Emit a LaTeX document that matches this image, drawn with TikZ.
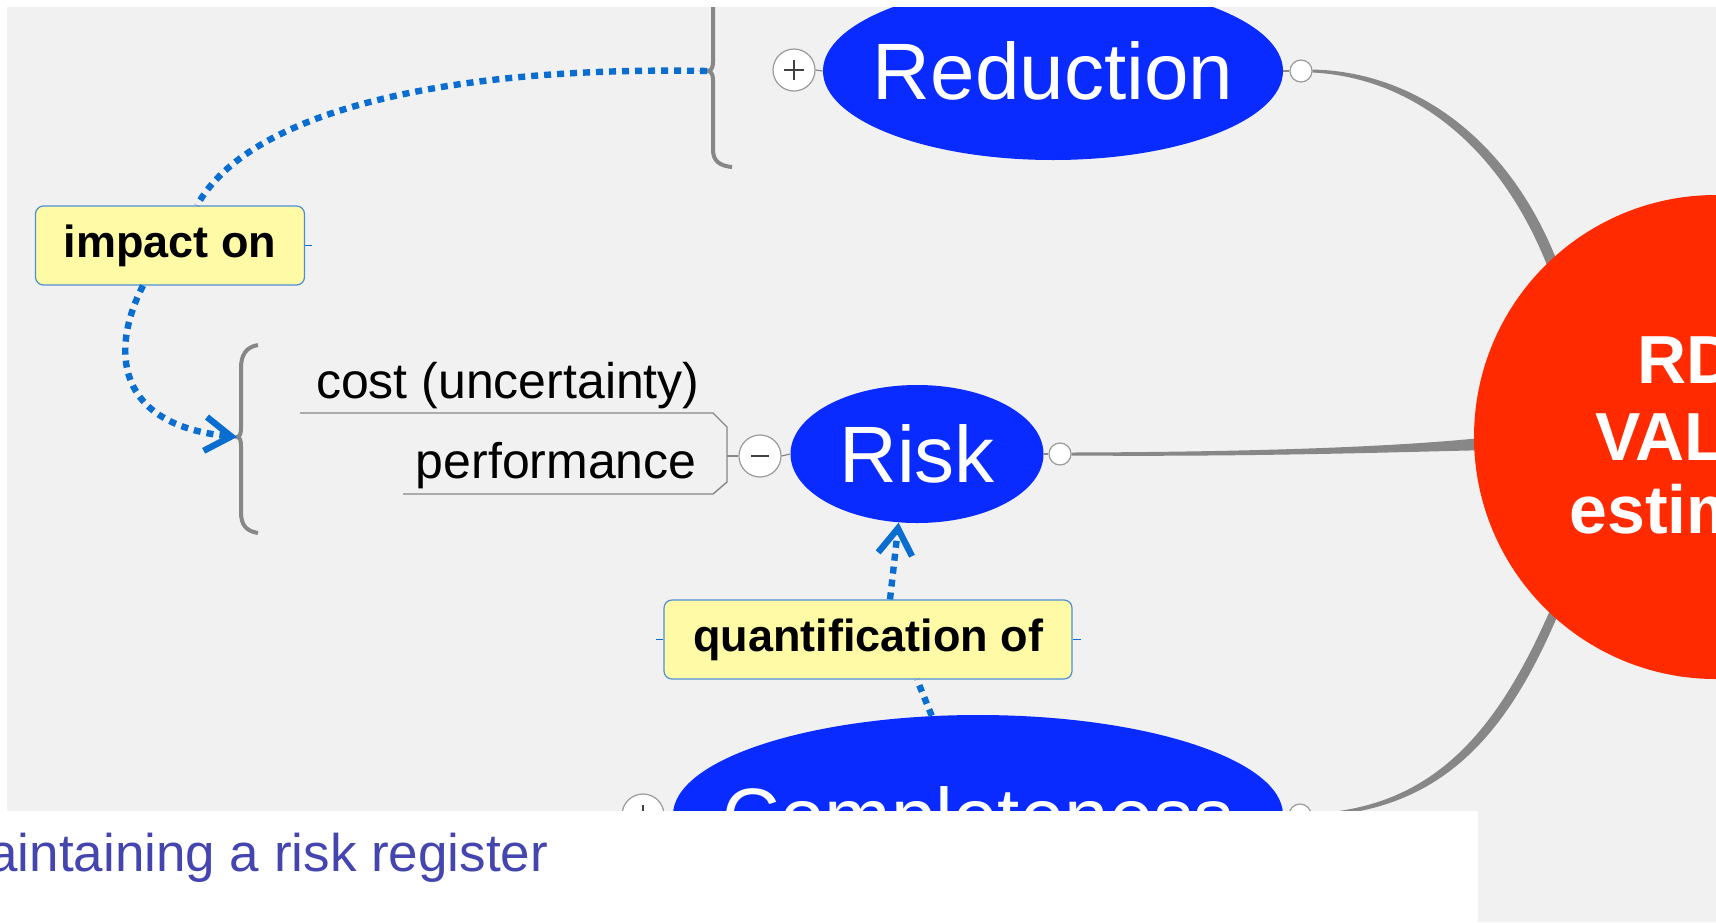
\documentclass[tikz,border=0pt]{standalone}
\usepackage{fontspec}
\setmainfont{Liberation Sans}
\usetikzlibrary{shapes.geometric,arrows.meta,calc}

\definecolor{canvas}{HTML}{F1F1F1}
\definecolor{topicblue}{HTML}{0A2BFF}
\definecolor{corered}{HTML}{FF2A00}
\definecolor{relblue}{HTML}{0A6ED1}
\definecolor{noteyellow}{HTML}{FFFAA5}
\definecolor{noteedge}{HTML}{4D8FD6}
\definecolor{branchgray}{HTML}{878787}
\definecolor{knobgray}{HTML}{9A9A9A}
\definecolor{signgray}{HTML}{404040}
\definecolor{captionblue}{HTML}{4545B0}

\begin{document}
\begin{tikzpicture}[x=0.5pt,y=-0.5pt,
  topic/.style={ellipse, fill=topicblue, inner sep=0pt},
  topiclabel/.style={text=white, inner sep=0pt, text depth=0pt,
    font=\fontsize{40}{40}\selectfont},
  core/.style={circle, fill=corered, inner sep=0pt},
  coretext/.style={anchor=base west, inner sep=0pt, text=white,
    font=\bfseries\fontsize{34}{34}\selectfont},
  toggle/.style={circle, fill=white, draw=knobgray, line width=0.6pt, minimum size=21pt, inner sep=0pt},
  knob/.style={circle, fill=white, draw=knobgray, line width=0.6pt, minimum size=11pt, inner sep=0pt},
  signline/.style={draw=signgray, line width=1pt},
  joinline/.style={draw=branchgray, line width=0.6pt},
  bracket/.style={draw=branchgray, line width=2pt},
  branchline/.style={draw=branchgray, line width=0.7pt},
  relation/.style={draw=relblue, line width=3.2pt, dash pattern=on 3.5pt off 3pt},
  relarrow/.style={-{Straight Barb[length=13pt, width=17pt]}},
  note/.style={rectangle, rounded corners=4pt, fill=noteyellow, draw=noteedge, line width=0.6pt,
    inner sep=0pt, font=\bfseries\fontsize{22.5}{22.5}\selectfont},
  notetick/.style={draw=relblue, line width=0.8pt},
  leaf/.style={anchor=base east, inner sep=0pt, font=\fontsize{25}{25}\selectfont}
]
\useasboundingbox (0,0) rectangle (1716,922);
\clip (0,0) rectangle (1716,922);
\fill[white] (0,0) rectangle (1716,922);
\fill[canvas] (7,7) rectangle (1716,922);

% ---------- topic ellipses ----------
\node[topic, minimum width=230pt, minimum height=89pt,
  label={[topiclabel]center:Reduction}] (reduction) at (1053,71) {};
\node[topic, minimum width=126.5pt, minimum height=69pt,
  label={[topiclabel]center:Risk}] (risk) at (917,454) {};
\node[topic, minimum width=305pt, minimum height=100pt,
  label={[topiclabel]center:Completeness}] (complete) at (978,815) {};

% ---------- expand / collapse toggles and knobs ----------
\node[toggle] (redplus) at (794,70) {};
\node[toggle] (riskminus) at (760,456) {};
\node[toggle] (compplus) at (643,815) {};
\node[knob] (redknob) at (1301,71) {};
\node[knob] (riskknob) at (1060,454) {};
\node[knob] (compknob) at (1300,815) {};

\draw[joinline] (redplus.east) -- (reduction.west);
\draw[joinline] (riskminus.east) -- (risk.west);
\draw[joinline] (compplus.east) -- (complete.west);
\draw[joinline] (reduction.east) -- (redknob.west);
\draw[joinline] (risk.east) -- (riskknob.west);
\draw[joinline] (complete.east) -- (compknob.west);

\draw[signline] ($(redplus)+(-10,0)$) -- ($(redplus)+(10,0)$)
                ($(redplus)+(0,-10)$) -- ($(redplus)+(0,10)$);
\draw[signline] ($(riskminus)+(-9,0)$) -- ($(riskminus)+(9,0)$);
\draw[signline] ($(compplus)+(-10,0)$) -- ($(compplus)+(10,0)$)
                ($(compplus)+(0,-10)$) -- ($(compplus)+(0,10)$);

% ---------- tapered branches to the central topic ----------
\coordinate (redend) at (1555,271);
\coordinate (riskend) at (1490,443.5);
\coordinate (compend) at (1558,603);
\fill[branchgray] ($(redknob.east)+(0,-1.5)$) .. controls (1422,72) and (1515,147) .. ($(redend)+(5,-2)$)
  -- ($(redend)+(-5,2)$) .. controls (1505,153) and (1418,78) .. ($(redknob.east)+(0,1.5)$) -- cycle;
\fill[branchgray] ($(riskknob.east)+(0,-1.5)$) .. controls (1250,452) and (1400,447) .. ($(riskend)+(0,-6.5)$)
  -- ($(riskend)+(0,6.5)$) .. controls (1400,452) and (1250,457) .. ($(riskknob.east)+(0,1.5)$) -- cycle;
\fill[branchgray] ($(compknob.east)+(0,-1.5)$) .. controls (1436,808) and (1500,728) .. ($(compend)+(-4,-2)$)
  -- ($(compend)+(4,2)$) .. controls (1510,732) and (1444,812) .. ($(compknob.east)+(0,1.5)$) -- cycle;

% ---------- central topic ----------
\node[core, minimum size=242pt] (centre) at (1716,437) {};
\node[coretext] (rdline) at (1637,383) {RD};
\node[coretext] (valline) at (1595,460) {VAL};
\node[coretext] (estline) at (1569,533) {estim};

% ---------- child branches of Risk ----------
\draw[branchline] (300,413) -- (713,413) -- (727,427) -- (727,482) -- (713,494) -- (403,494);
\draw[branchline] (727,456) -- (riskminus.west);
\node[leaf] (cost) at (700,398) {cost (uncertainty)};
\node[leaf] (perf) at (697,478) {performance};

% ---------- boundary brackets ----------
\draw[bracket] (713,-5) -- (713,62) .. controls (713,68) and (711,71) .. (707,71)
  .. controls (711,71) and (713,74) .. (713,80) -- (713,150)
  .. controls (713,161) and (720,166) .. (732,167);
\coordinate (redbrace) at (707,71);
\draw[bracket] (258,345) .. controls (246,347) and (241,355) .. (241,368) -- (241,428)
  .. controls (241,433) and (240,437) .. (237,437)
  .. controls (240,437) and (241,441) .. (241,446) -- (241,512)
  .. controls (241,525) and (246,531) .. (258,533);
\coordinate (costbrace) at (237,437);

% ---------- relationship labels ----------
\node[note, minimum width=134.5pt, minimum height=39.5pt] (impact) at (170,245.5) {impact on};
\node[note, minimum width=204pt, minimum height=39.5pt] (quant) at (868,639.5) {quantification of};
\draw[notetick] (impact.east) -- ++(7,0);
\draw[notetick] (quant.west) -- ++(-7,0);
\draw[notetick] (quant.east) -- ++(8,0);

% ---------- relationships ----------
\draw[relation] (redbrace) .. controls (450,66) and (250,110) .. ($(impact.north)+(27,0)$);
\draw[relation, relarrow] ($(impact.south)+(-27,0)$) .. controls (110,350) and (115,425) .. (costbrace);
\draw[relation] (complete.115) -- ($(quant.south)+(49,0)$);
\draw[relation, relarrow] ($(quant.north)+(22,0)$) -- (risk.255);

% ---------- page frame and caption ----------
\fill[white] (0,0) rectangle (1716,7);
\fill[white] (0,0) rectangle (7,811);
\fill[white] (0,811) rectangle (1478,922);
\node[anchor=base west, inner sep=0pt, text=captionblue, font=\fontsize{26.5}{26.5}\selectfont]
  (caption) at (-12,871) {aintaining a risk register};
\end{tikzpicture}
\end{document}
